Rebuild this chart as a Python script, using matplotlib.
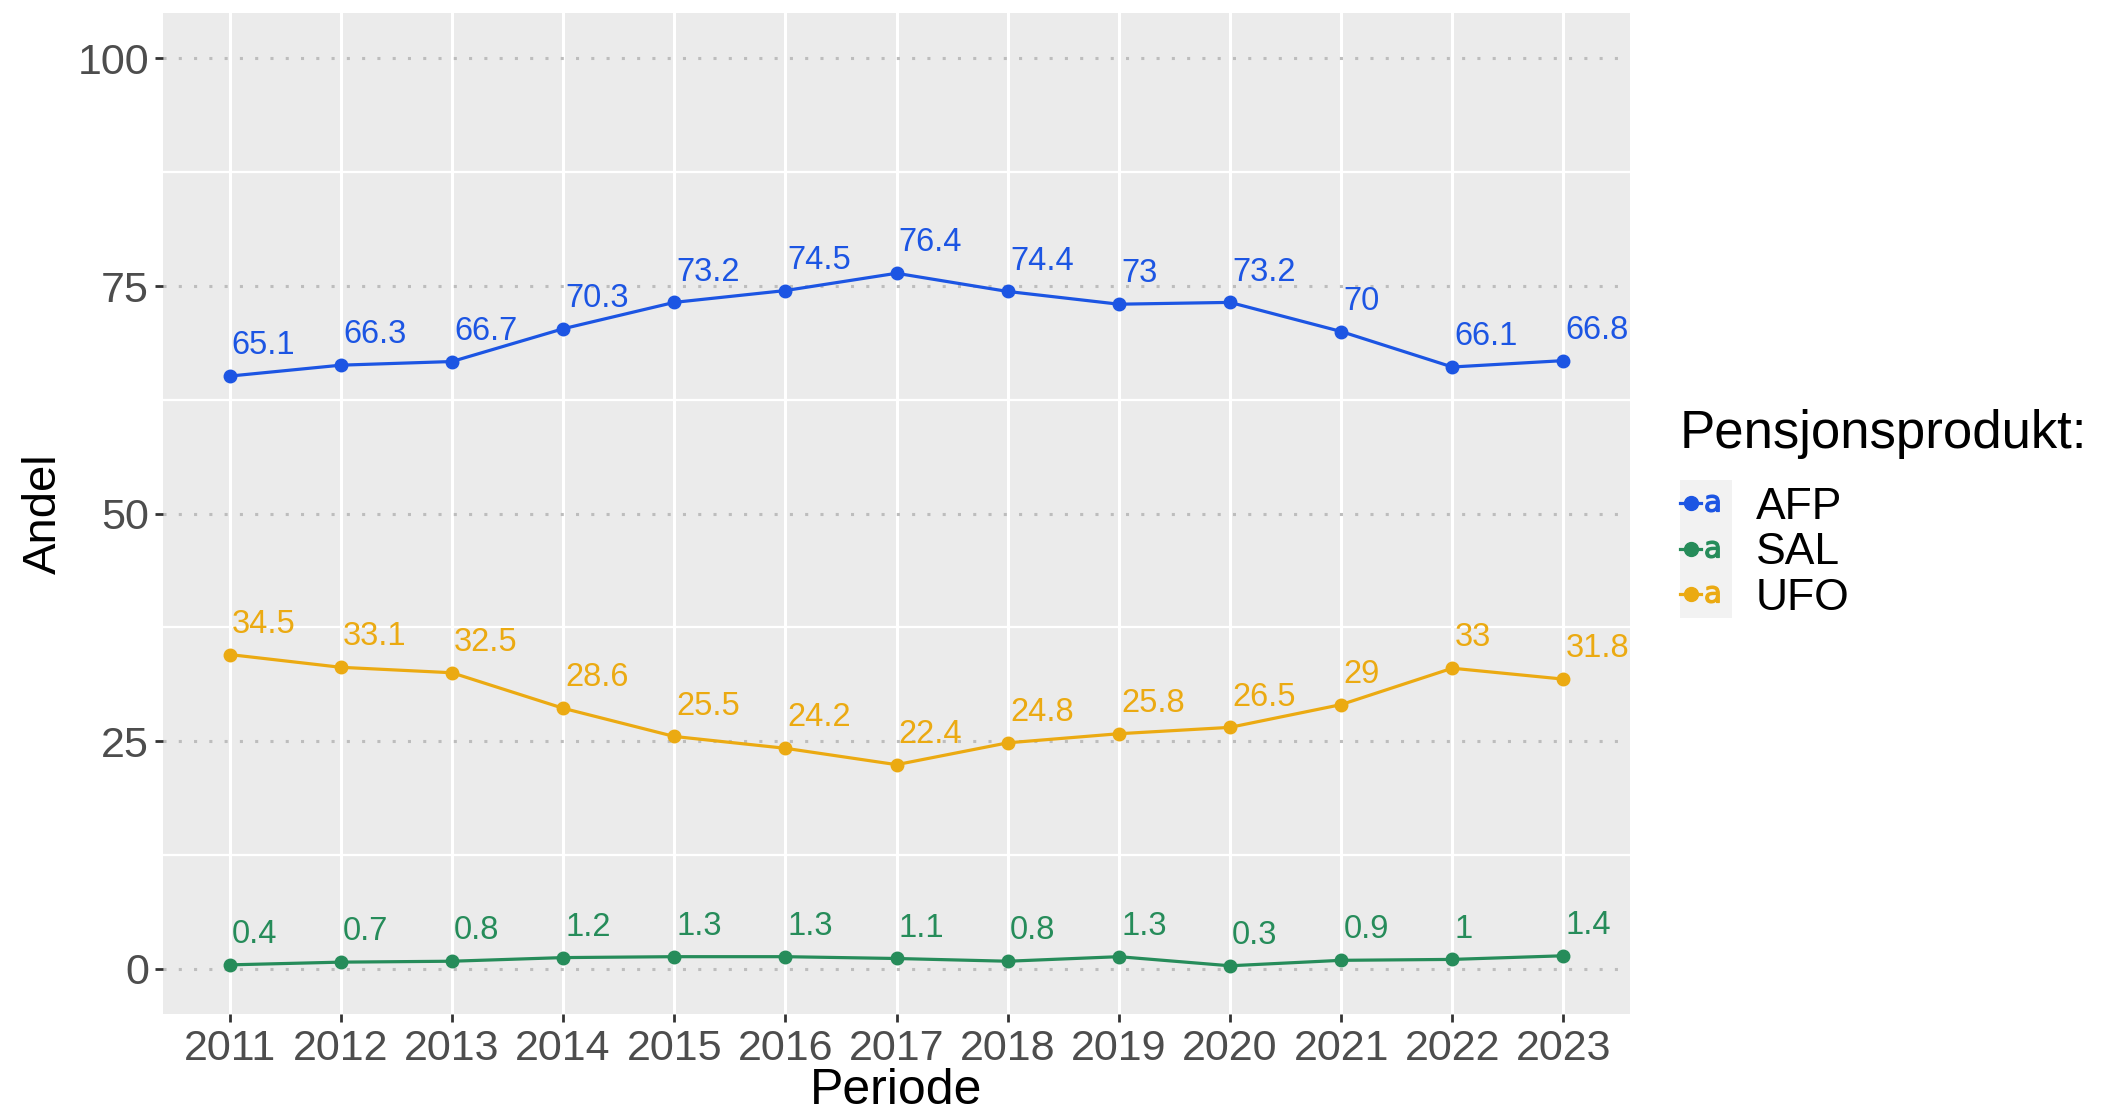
import matplotlib
matplotlib.use('Agg')
import matplotlib.pyplot as plt
from matplotlib.lines import Line2D
from matplotlib.patches import Rectangle
from matplotlib.legend_handler import HandlerTuple

# data
years = [2011, 2012, 2013, 2014, 2015, 2016, 2017, 2018, 2019, 2020, 2021, 2022, 2023]
afp = [65.1, 66.3, 66.7, 70.3, 73.2, 74.5, 76.4, 74.4, 73, 73.2, 70, 66.1, 66.8]
sal = [0.4, 0.7, 0.8, 1.2, 1.3, 1.3, 1.1, 0.8, 1.3, 0.3, 0.9, 1, 1.4]
ufo = [34.5, 33.1, 32.5, 28.6, 25.5, 24.2, 22.4, 24.8, 25.8, 26.5, 29, 33, 31.8]
products = ['AFP', 'SAL', 'UFO']
colors = ['#1c55e3', '#268c5a', '#ebaa12']
y_ticks = [0, 25, 50, 75, 100]

plt.rcParams['font.family'] = ['Liberation Sans', 'DejaVu Sans']

fig = plt.figure(figsize=(21.08, 11.11), dpi=100)
ax = fig.add_axes([0.0773, 0.0873, 0.696, 0.901])
ax.set_facecolor('#ebebeb')
for s in ax.spines.values():
    s.set_visible(False)

ax.set_xlim(years[0] - 0.6, years[-1] + 0.6)
ax.set_ylim(-5, 105)
ax.set_xticks(years)
ax.set_yticks(y_ticks)
ax.set_yticks([12.5, 37.5, 62.5, 87.5], minor=True)

ax.grid(axis='x', which='major', color='white', lw=2.2)
ax.grid(axis='y', which='minor', color='white', lw=1.6)
ax.grid(axis='y', which='major', color='#bdbdbd', lw=2.2, linestyle=(0, (1, 4)))
ax.set_axisbelow(True)

ax.tick_params(axis='both', which='major', labelsize=31, labelcolor='#4d4d4d',
               color='#333333', length=6, width=2)
ax.tick_params(axis='y', which='minor', length=0)
ax.tick_params(axis='x', pad=5)
ax.tick_params(axis='y', pad=4)

handles = []
for name, vals, c in zip(products, [afp, sal, ufo], colors):
    ax.plot(years, vals, color=c, lw=2.3, marker='o', markersize=9, zorder=3)
    for x, v in zip(years, vals):
        ax.text(x + 0.02, v + 2.4, '%g' % v, color=c, fontsize=23.5,
                ha='left', va='baseline', zorder=4)
    h1 = Line2D([], [], color=c, lw=2.3, marker='o', markersize=10)
    h2 = Line2D([], [], color=c, lw=0, marker='$\\mathrm{a}$', markersize=12)
    handles.append((h1, h2))

ax.set_xlabel('Periode', fontsize=36, labelpad=-1)
ax.set_ylabel('Andel', fontsize=34, labelpad=8)

# grey background behind the legend keys
fig.add_artist(Rectangle((0.797, 0.4437), 0.0247, 0.124, transform=fig.transFigure,
                         facecolor='#f2f2f2', edgecolor='none', zorder=0))

leg = fig.legend(handles, products, handler_map={tuple: HandlerTuple(ndivide=None)},
                 loc='upper left', bbox_to_anchor=(0.797, 0.632), frameon=False,
                 fontsize=32, title='Pensjonsprodukt:', title_fontsize=38,
                 handlelength=0.95, handletextpad=0.75, labelspacing=0.1,
                 borderpad=0, borderaxespad=0)
leg._legend_box.align = 'left'
leg._legend_box.sep = 20

fig.savefig('out.png', dpi=100, facecolor='white')
